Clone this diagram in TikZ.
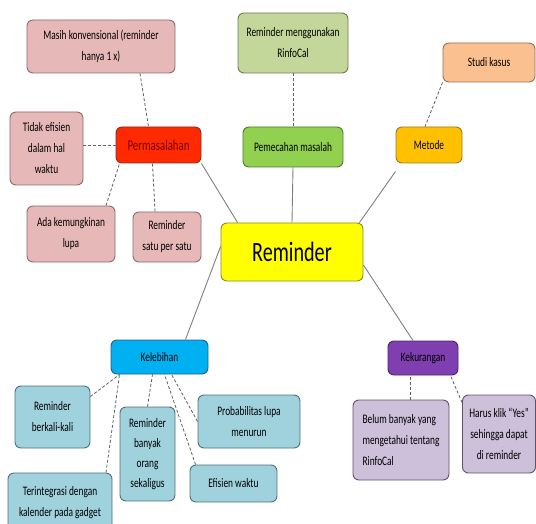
\documentclass[tikz,border=0pt]{standalone}
\usepackage{fontspec}
\setmainfont{Carlito}[FakeStretch=0.72]
\usetikzlibrary{calc}
\definecolor{pinkfill}{HTML}{E6B9B8}
\definecolor{pinkdraw}{HTML}{8E6A6A}
\definecolor{redfill}{HTML}{FF2A00}
\definecolor{reddraw}{HTML}{8A2A1A}
\definecolor{redtext}{HTML}{7A0000}
\definecolor{lgreenfill}{HTML}{C4D79B}
\definecolor{lgreendraw}{HTML}{6B7A52}
\definecolor{greenfill}{HTML}{92D050}
\definecolor{greendraw}{HTML}{4F7A2A}
\definecolor{orangefill}{HTML}{FFC000}
\definecolor{orangedraw}{HTML}{9A7A20}
\definecolor{peachfill}{HTML}{FAC090}
\definecolor{peachdraw}{HTML}{9A7055}
\definecolor{yellowfill}{HTML}{FFFF00}
\definecolor{yellowdraw}{HTML}{8A8A30}
\definecolor{cyanfill}{HTML}{00B0F0}
\definecolor{cyandraw}{HTML}{2A5F80}
\definecolor{lbluefill}{HTML}{A0D2DE}
\definecolor{lbluedraw}{HTML}{4F7078}
\definecolor{purplefill}{HTML}{7F3FB0}
\definecolor{purpledraw}{HTML}{4A2468}
\definecolor{lilacfill}{HTML}{CCC0DA}
\definecolor{lilacdraw}{HTML}{5E5468}
\definecolor{linegray}{HTML}{7F7F7F}
\definecolor{dashgray}{HTML}{606060}
\tikzset{
  box/.style={rectangle, rounded corners=6pt, inner sep=0pt, line width=0.9pt, align=center,
    font=\fontsize{13}{21}\selectfont, text=black},
  bx/.style n args={3}{box, minimum width=#1, minimum height=#2, fill=#3fill, draw=#3draw},
  solidlink/.style={draw=linegray, line width=0.9pt},
  dashlink/.style={draw=dashgray, line width=0.8pt, dash pattern=on 3pt off 2pt},
}
\begin{document}
\begin{tikzpicture}[x=1pt,y=-1pt]
\useasboundingbox (0,0) rectangle (536,524);
\clip (0,0) rectangle (536,524);
% central
\node[bx={142pt}{58pt}{yellow}, font=\fontsize{28}{30}\selectfont] (rem) at (292,252) {Reminder};
% Permasalahan branch
\node[bx={85pt}{36pt}{red}, text=redtext, font=\fontsize{15}{18}\selectfont] (perm) at (158.5,145) {Permasalahan};
\node[bx={148pt}{53pt}{pink}] (masih) at (101,46.5) {Masih konvensional (reminder\\hanya 1 x)};
\node[bx={73pt}{73pt}{pink}] (tidak) at (46.5,148.5) {Tidak efisien\\dalam hal\\waktu};
\node[bx={88pt}{56pt}{pink}] (ada) at (71,234) {Ada kemungkinan\\lupa};
\node[bx={68pt}{50pt}{pink}] (satu) at (167,237) {Reminder\\satu per satu};
% Pemecahan
\node[bx={100pt}{40pt}{green}] (pemec) at (293,147) {Pemecahan masalah};
\node[bx={110pt}{60pt}{lgreen}] (rinfo) at (293,43) {Reminder menggunakan\\RinfoCal};
% Metode
\node[bx={66pt}{36pt}{orange}] (metode) at (429,145) {Metode};
\node[bx={92pt}{39pt}{peach}] (studi) at (489,62.5) {Studi kasus};
% Kelebihan
\node[bx={97pt}{34pt}{cyan}] (kel) at (159.5,357) {Kelebihan};
\node[bx={75pt}{62pt}{lblue}] (berkali) at (52.5,417) {Reminder\\berkali-kali};
\node[bx={55pt}{94pt}{lblue}, font=\fontsize{13}{20}\selectfont] (banyak) at (147.5,454) {Reminder\\banyak\\orang\\sekaligus};
\node[bx={102pt}{53pt}{lblue}] (prob) at (249,421.5) {Probabilitas lupa\\menurun};
\node[bx={87pt}{37pt}{lblue}] (efisien) at (233.5,483.5) {Efisien waktu};
\node[bx={104pt}{60pt}{lblue}] (terint) at (60,503) {Terintegrasi dengan\\kalender pada gadget};
% Kekurangan
\node[bx={70pt}{34pt}{purple}] (kek) at (423,358) {Kekurangan};
\node[bx={96pt}{80pt}{lilac}, align=left] (belum) at (401,440) {Belum banyak yang\\mengetahui tentang\\RinfoCal};
\node[bx={73pt}{78pt}{lilac}] (harus) at (499,434) {Harus klik ``Yes''\\sehingga dapat\\di reminder};
% solid links
\draw[solidlink] ([xshift=17pt]rem.north west) -- (perm.south east);
\draw[solidlink] (rem.north) -- (pemec.south);
\draw[solidlink] ([xshift=-4pt]rem.north east) -- ([yshift=-8pt]metode.south west);
\draw[solidlink] ([yshift=-13pt]rem.east) -- ([xshift=-10pt]kek.north);
\draw[solidlink] ([yshift=-24pt]rem.north west) -- ([xshift=26pt]kel.north);
% dashed links
\draw[dashlink] ([xshift=39pt]masih.south) -- ([xshift=-10pt]perm.north);
\draw[dashlink] (tidak.east |- perm.west) -- (perm.west);
\draw[dashlink] ([xshift=35pt]ada.north) -- ([xshift=4pt]perm.south west);
\draw[dashlink] ([xshift=-12pt]satu.north) -- ([xshift=-6pt]perm.south);
\draw[dashlink] (rinfo.south) -- (pemec.north);
\draw[dashlink] (studi.south west) -- ([xshift=-4pt]metode.north);
\draw[dashlink] ([yshift=-11pt]berkali.north east) -- ([xshift=9pt]kel.south west);
\draw[dashlink] ([xshift=46pt]terint.north) -- ([xshift=9pt]kel.south west);
\draw[dashlink] (banyak.north) -- ([xshift=-7pt]kel.south);
\draw[dashlink] ([xshift=6pt]efisien.north west) -- ([xshift=5pt]kel.south);
\draw[dashlink] (prob.west) -- ([xshift=12pt]kel.south);
\draw[dashlink] ([xshift=9pt]belum.north) -- ([xshift=-13pt]kek.south);
\draw[dashlink] ([yshift=-8pt]harus.north west) -- ([xshift=-8pt]kek.south east);
\end{tikzpicture}
\end{document}
